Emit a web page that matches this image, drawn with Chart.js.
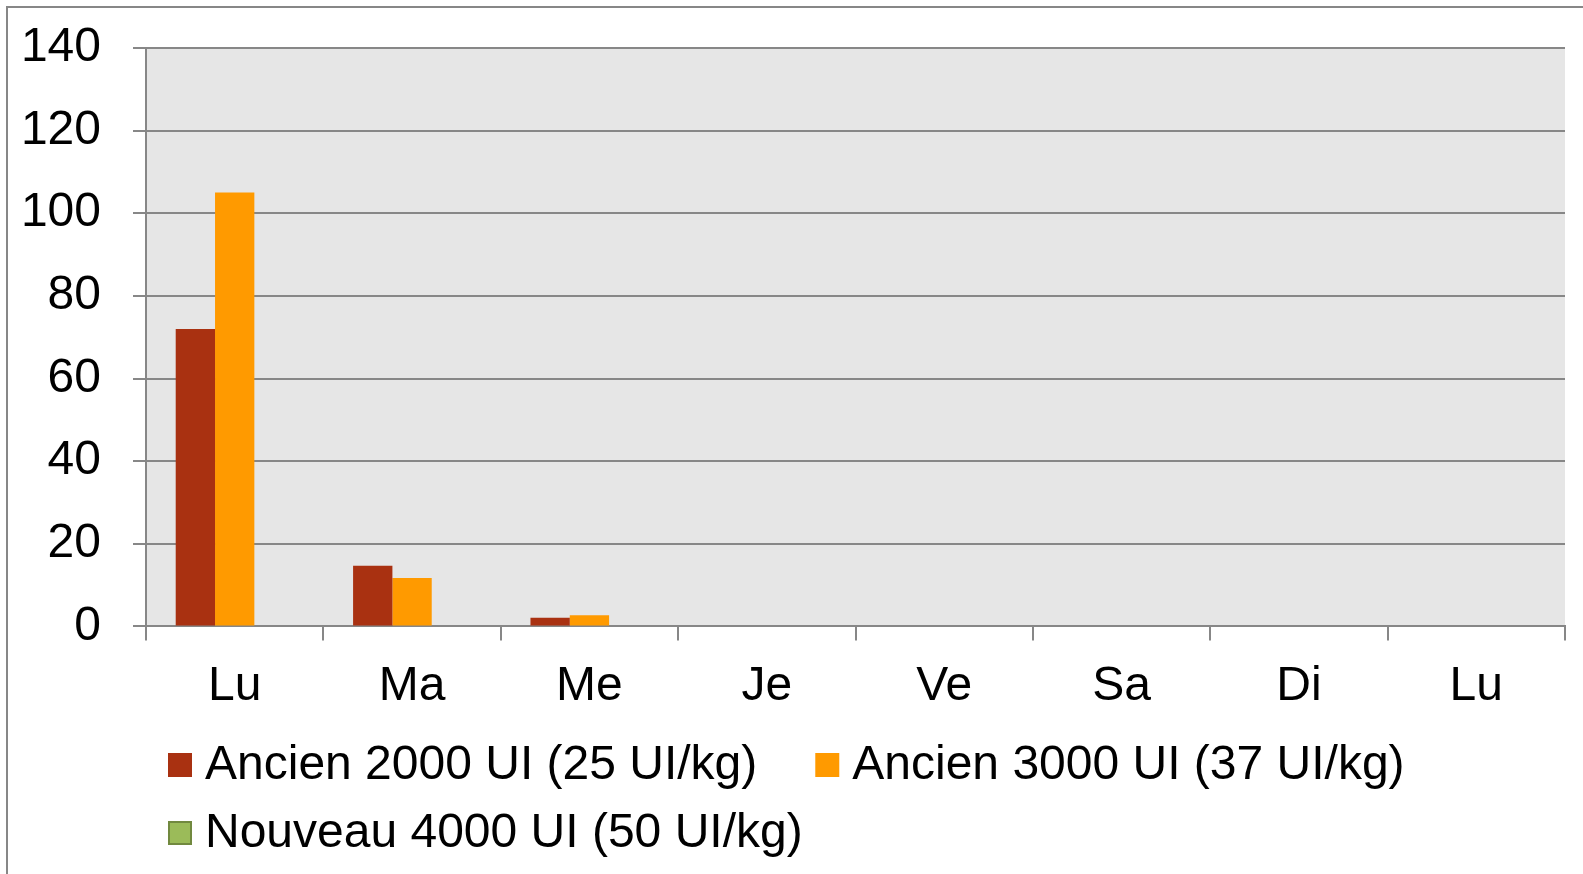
<!DOCTYPE html>
<html>
<head>
<meta charset="utf-8">
<script src="https://cdn.jsdelivr.net/npm/chart.js@4"></script>
<style>
  html, body { margin: 0; padding: 0; background: #fff; }
  #wrap { width: 1583px; height: 874px; position: relative; }
</style>
</head>
<body>
<div id="wrap"><canvas id="barChart"></canvas></div>
<script>
var jours = ['Lu', 'Ma', 'Me', 'Je', 'Ve', 'Sa', 'Di', 'Lu'];
var ancien2000 = [72, 14.7, 2.1, 0, 0, 0, 0, 0];
var ancien3000 = [105, 11.7, 2.7, 0, 0, 0, 0, 0];
var nouveau4000 = [0, 0, 0, 0, 0, 0, 0, 0];
var yTicks = [0, 20, 40, 60, 80, 100, 120, 140];

var gris = '#878787';
var police = '"Liberation Sans", Arial, sans-serif';

// fond gris de la zone de tracé + cadre extérieur
var fondPlugin = {
    id: 'fond',
    beforeDraw: function(chart) {
        var c = chart.ctx, a = chart.chartArea;
        c.save();
        c.fillStyle = '#e6e6e6';
        c.fillRect(a.left, a.top, a.right - a.left, a.bottom - a.top);
        c.strokeStyle = gris;
        c.lineWidth = 2;
        c.beginPath();
        c.moveTo(7, chart.height);
        c.lineTo(7, 7);
        c.lineTo(chart.width, 7);
        c.stroke();
        c.restore();
    }
};

// légende dessinée à la main (style Excel, alignée à gauche)
var legendePlugin = {
    id: 'legende',
    afterDraw: function(chart) {
        var c = chart.ctx;
        c.save();
        c.font = '48px ' + police;
        c.textBaseline = 'middle';
        var x = 168, y = 753, maxX = chart.width;
        chart.data.datasets.forEach(function(ds) {
            var w = c.measureText(ds.label).width;
            if (x + 37 + w > maxX) { x = 168; y += 68; }
            c.fillStyle = ds.backgroundColor;
            c.fillRect(x, y, 24, 24);
            if (ds.legendBorder) {
                c.strokeStyle = ds.legendBorder;
                c.lineWidth = 2;
                c.strokeRect(x + 1, y + 1, 22, 22);
            }
            c.fillStyle = '#000';
            c.fillText(ds.label, x + 37, y + 13);
            x += 37 + w + 58;
        });
        c.restore();
    }
};

var ctx = document.getElementById('barChart').getContext('2d');

var myChart = new Chart(ctx, {
    type: 'bar',
    data: {
        labels: jours,
        datasets: [{
            label: 'Ancien 2000 UI (25 UI/kg)',
            data: ancien2000,
            backgroundColor: '#a93111',
            borderWidth: 0
        }, {
            label: 'Ancien 3000 UI (37 UI/kg)',
            data: ancien3000,
            backgroundColor: '#ff9a00',
            borderWidth: 0
        }, {
            label: 'Nouveau 4000 UI (50 UI/kg)',
            data: nouveau4000,
            backgroundColor: '#9bbb59',
            legendBorder: '#71893f',
            borderWidth: 0
        }]
    },
    options: {
        responsive: true,
        maintainAspectRatio: false,
        animation: false,
        layout: {
            padding: { left: 20, right: 18, top: 48, bottom: 140 }
        },
        datasets: {
            bar: { categoryPercentage: 0.665, barPercentage: 1 }
        },
        plugins: {
            legend: { display: false },
            tooltip: { enabled: false }
        },
        scales: {
            x: {
                grid: {
                    offset: true,
                    drawOnChartArea: false,
                    color: gris,
                    lineWidth: 2,
                    tickLength: 14
                },
                border: { color: gris, width: 2 },
                ticks: {
                    color: '#000',
                    font: { family: police, size: 48 },
                    padding: 18
                }
            },
            y: {
                min: 0,
                max: 140,
                afterBuildTicks: function(axis) {
                    axis.ticks = yTicks.map(function(v) { return { value: v }; });
                },
                afterFit: function(axis) {
                    axis.width = 126;
                    axis.paddingTop = 0;
                    axis.paddingBottom = 0;
                },
                grid: {
                    color: gris,
                    lineWidth: 2,
                    tickLength: 13
                },
                border: { color: gris, width: 2 },
                ticks: {
                    color: '#000',
                    font: { family: police, size: 48 },
                    padding: 32
                }
            }
        }
    },
    plugins: [fondPlugin, legendePlugin]
});
</script>
</body>
</html>
